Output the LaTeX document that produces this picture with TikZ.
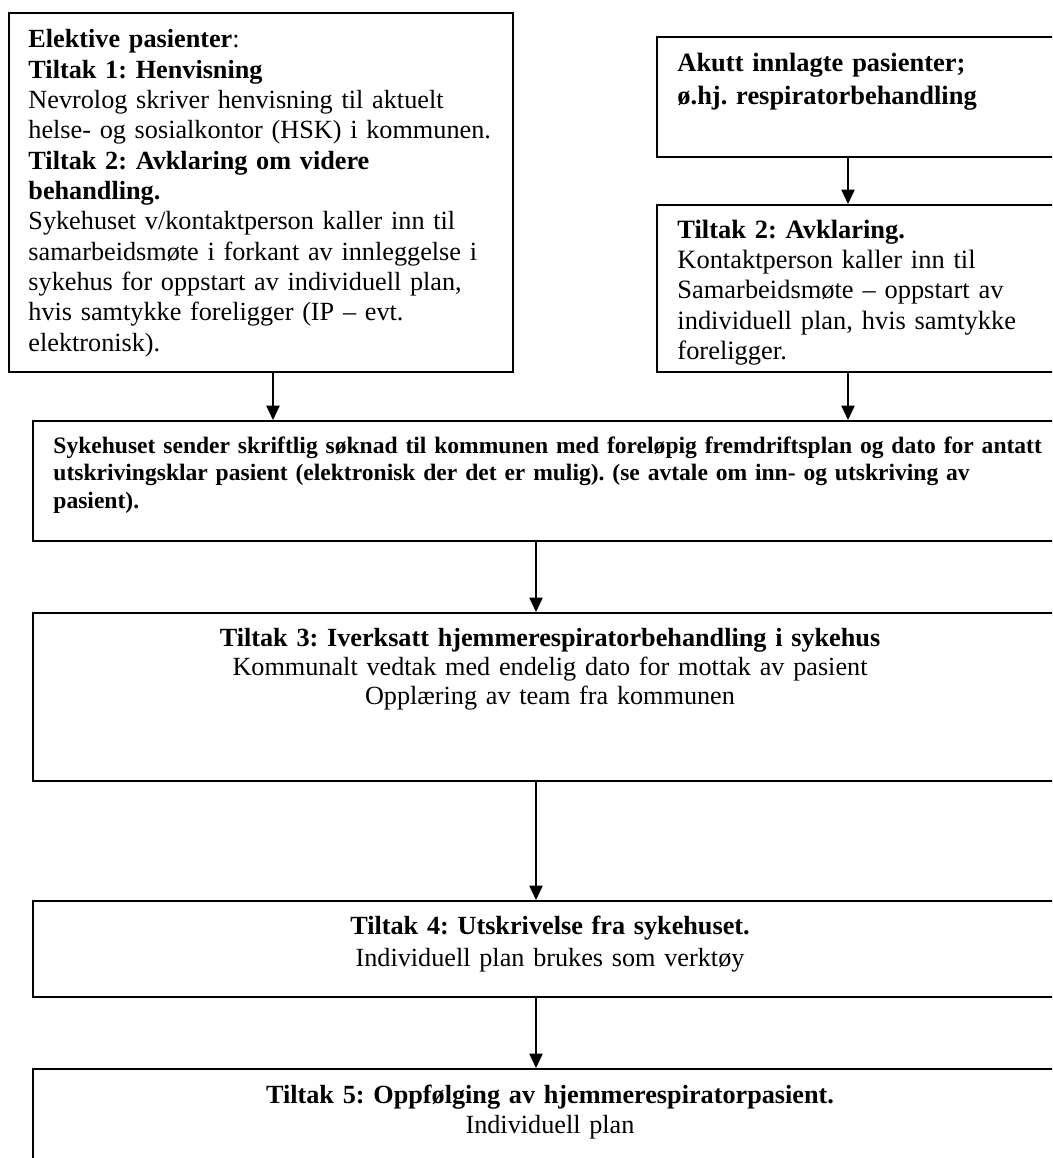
\documentclass[tikz,border=0pt]{standalone}
\usepackage{fontspec}
\setmainfont{Liberation Serif}
\usetikzlibrary{arrows.meta}
\begin{document}
\frenchspacing
\begin{tikzpicture}[x=0.45pt,y=-0.45pt,
  box/.style={draw, line width=0.8pt, rectangle, inner sep=0pt, anchor=north west},
  txt/.style={inner sep=0pt, align=left, anchor=base west},
  txtc/.style={inner sep=0pt, align=center, anchor=base, text width=460pt},
  flow/.style={-{Triangle[width=6pt,length=6.5pt]}, line width=0.7pt}]
\path[use as bounding box] (0,0) rectangle (1052,1158);
\clip (0,0) rectangle (1052,1158);
% boxes
\node[box, minimum width=226.8pt, minimum height=161.55pt] (A) at (8,12) {};
\node[box, minimum width=186.3pt, minimum height=54pt] (B) at (656,36) {};
\node[box, minimum width=186.3pt, minimum height=75.15pt] (C) at (656,204) {};
\node[box, minimum width=466.2pt, minimum height=54pt] (D) at (32,420) {};
\node[box, minimum width=466.2pt, minimum height=75.6pt] (E) at (32,612) {};
\node[box, minimum width=466.2pt, minimum height=43.2pt] (F) at (32,900) {};
\node[box, minimum width=466.2pt, minimum height=54pt] (G) at (32,1068) {};
% texts
\node[txt, text width=220pt, font=\fontsize{11.8}{13.64}\selectfont] (tA) at (28,48)
{\textbf{Elektive pasienter}:\\
\textbf{Tiltak 1: Henvisning}\\
Nevrolog skriver henvisning til aktuelt\\
helse- og sosialkontor (HSK) i kommunen.\\
\textbf{Tiltak 2: Avklaring om videre}\\
\textbf{behandling.}\\
Sykehuset v/kontaktperson kaller inn til\\
samarbeidsmøte i forkant av innleggelse i\\
sykehus for oppstart av individuell plan,\\
hvis samtykke foreligger (IP -- evt.\\
elektronisk).};
\node[txt, text width=180pt, font=\bfseries\fontsize{11.9}{14.85}\selectfont] (tB) at (677,71)
{Akutt innlagte pasienter;\\
ø.hj. respiratorbehandling};
\begin{scope}
\clip (656,204) rectangle (1052,365);
\node[txt, text width=180pt, font=\fontsize{11.9}{13.7}\selectfont] (tC) at (677,238)
{\textbf{Tiltak 2: Avklaring.}\\
Kontaktperson kaller inn til\\
Samarbeidsmøte -- oppstart av\\
individuell plan, hvis samtykke\\
foreligger.};
\end{scope}
\node[txt, text width=462pt, font=\bfseries\fontsize{10.6}{12.4}\selectfont] (tD) at (53,453)
{Sykehuset sender skriftlig søknad til kommunen med foreløpig fremdriftsplan og dato for antatt\\
utskrivingsklar pasient (elektronisk der det er mulig). (se avtale om inn- og utskriving av\\
pasient).};
\node[txtc, font=\fontsize{11.8}{13.05}\selectfont] (tE) at (550,646)
{\textbf{Tiltak 3: Iverksatt hjemmerespiratorbehandling i sykehus}\\
Kommunalt vedtak med endelig dato for mottak av pasient\\
Opplæring av team fra kommunen};
\node[txtc, font=\fontsize{11.8}{14.7}\selectfont] (tF) at (550,934)
{\textbf{Tiltak 4: Utskrivelse fra sykehuset.}\\
Individuell plan brukes som verktøy};
\node[txtc, font=\fontsize{11.8}{13.7}\selectfont] (tG) at (550,1103)
{\textbf{Tiltak 5: Oppfølging av hjemmerespiratorpasient.}\\
Individuell plan};
% connectors
\coordinate (xl) at (273,0);
\coordinate (xr) at (848,0);
\coordinate (xm) at (536,0);
\draw[flow] (A.south -| xl) -- (D.north -| xl);
\draw[flow] (B.south -| xr) -- (C.north -| xr);
\draw[flow] (C.south -| xr) -- (D.north -| xr);
\draw[flow] (D.south -| xm) -- (E.north -| xm);
\draw[flow] (E.south -| xm) -- (F.north -| xm);
\draw[flow] (F.south -| xm) -- (G.north -| xm);
\end{tikzpicture}
\end{document}
